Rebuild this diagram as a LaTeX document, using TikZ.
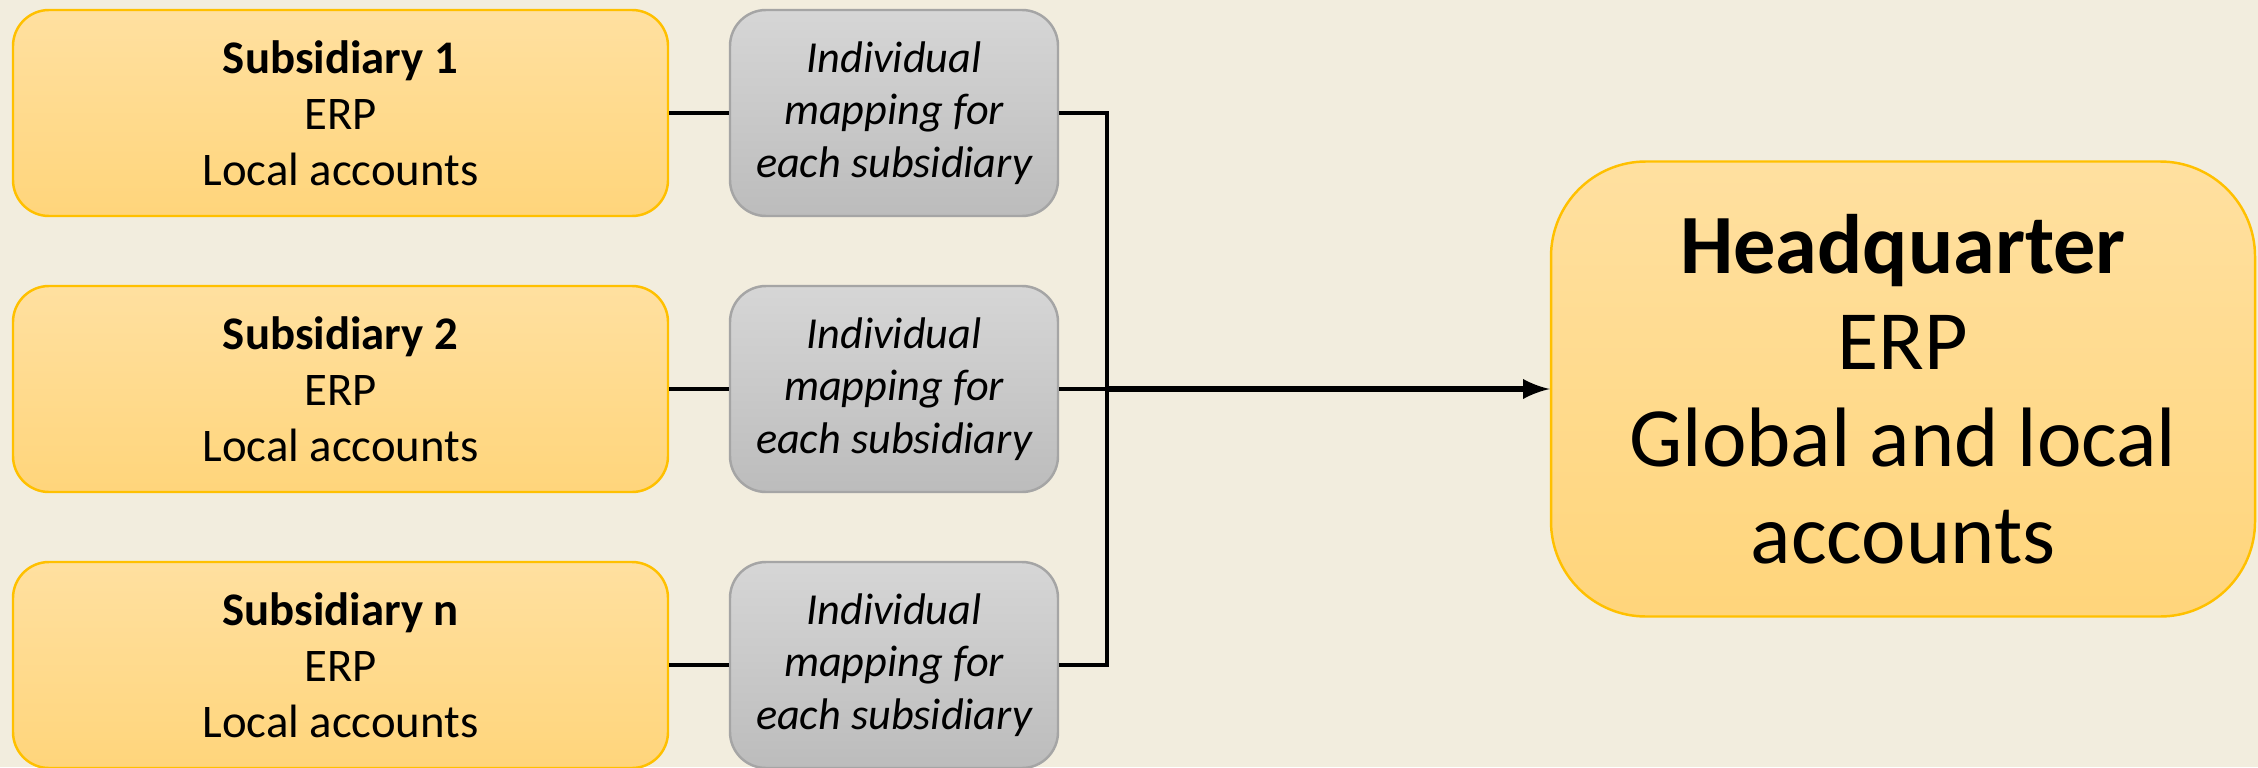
\documentclass[tikz,border=0pt]{standalone}
\usepackage{fontspec}
\setmainfont{Carlito}
\usepackage{xcolor}
\usetikzlibrary{arrows}
\definecolor{bgbeige}{HTML}{F2EDDE}
\definecolor{subtop}{HTML}{FFE0A0}
\definecolor{subbot}{HTML}{FFD57B}
\definecolor{subline}{HTML}{FFC000}
\definecolor{maptop}{HTML}{D6D6D6}
\definecolor{mapbot}{HTML}{BCBCBC}
\definecolor{mapline}{HTML}{A5A5A5}

\begin{document}
\begin{tikzpicture}[
    subbox/.style={draw=subline, line width=0.7pt, top color=subtop, bottom color=subbot,
      rounded corners=0.36cm, minimum width=6.55cm, minimum height=2.06cm,
      align=center, inner sep=0pt, font=\fontsize{13.3}{16}\selectfont},
    mapbox/.style={draw=mapline, line width=0.7pt, top color=maptop, bottom color=mapbot,
      rounded corners=0.36cm, minimum width=3.28cm, minimum height=2.06cm,
      align=center, inner sep=0pt, font=\fontsize{12.6}{15}\selectfont\itshape},
    hqbox/.style={draw=subline, line width=0.7pt, top color=subtop, bottom color=subbot,
      rounded corners=0.95cm, minimum width=7.04cm, minimum height=4.55cm,
      align=center, inner sep=0pt, font=\fontsize{24}{27.5}\selectfont},
    link/.style={line width=1pt}
  ]
      % background and page size
      \fill[bgbeige] (0, 0) rectangle (22.58, 7.67);
      \useasboundingbox (0, 0) rectangle (22.58, 7.67);

      % subsidiaries
      \node[subbox] (sub1) at (3.405, 6.54) {\textbf{Subsidiary 1}\\ERP\\Local accounts};
      \node[subbox] (sub2) at (3.405, 3.78) {\textbf{Subsidiary 2}\\ERP\\Local accounts};
      \node[subbox] (subn) at (3.405, 1.02) {\textbf{Subsidiary n}\\ERP\\Local accounts};

      % mappings
      \node[mapbox] (map1) at (8.94, 6.54) {Individual\\mapping for\\each subsidiary};
      \node[mapbox] (map2) at (8.94, 3.78) {Individual\\mapping for\\each subsidiary};
      \node[mapbox] (mapn) at (8.94, 1.02) {Individual\\mapping for\\each subsidiary};

      % headquarter
      \node[hqbox] (hq) at (19.03, 3.78) {\textbf{Headquarter}\\ERP\\Global and local\\accounts};

      \coordinate (join1) at (11.07, 6.54);
      \coordinate (join2) at (11.07, 3.78);
      \coordinate (joinn) at (11.07, 1.02);

      \draw[link] (sub1) -- (map1);
      \draw[link] (sub2) -- (map2);
      \draw[link] (subn) -- (mapn);
      \draw[link] (map1.east) -- (join1) -- (joinn) -- (mapn.east);
      \draw[link] (map2.east) -- (join2);
      \draw[line width=1.6pt, -latex] (join2) -- (hq.west);
    \end{tikzpicture}
\end{document}
